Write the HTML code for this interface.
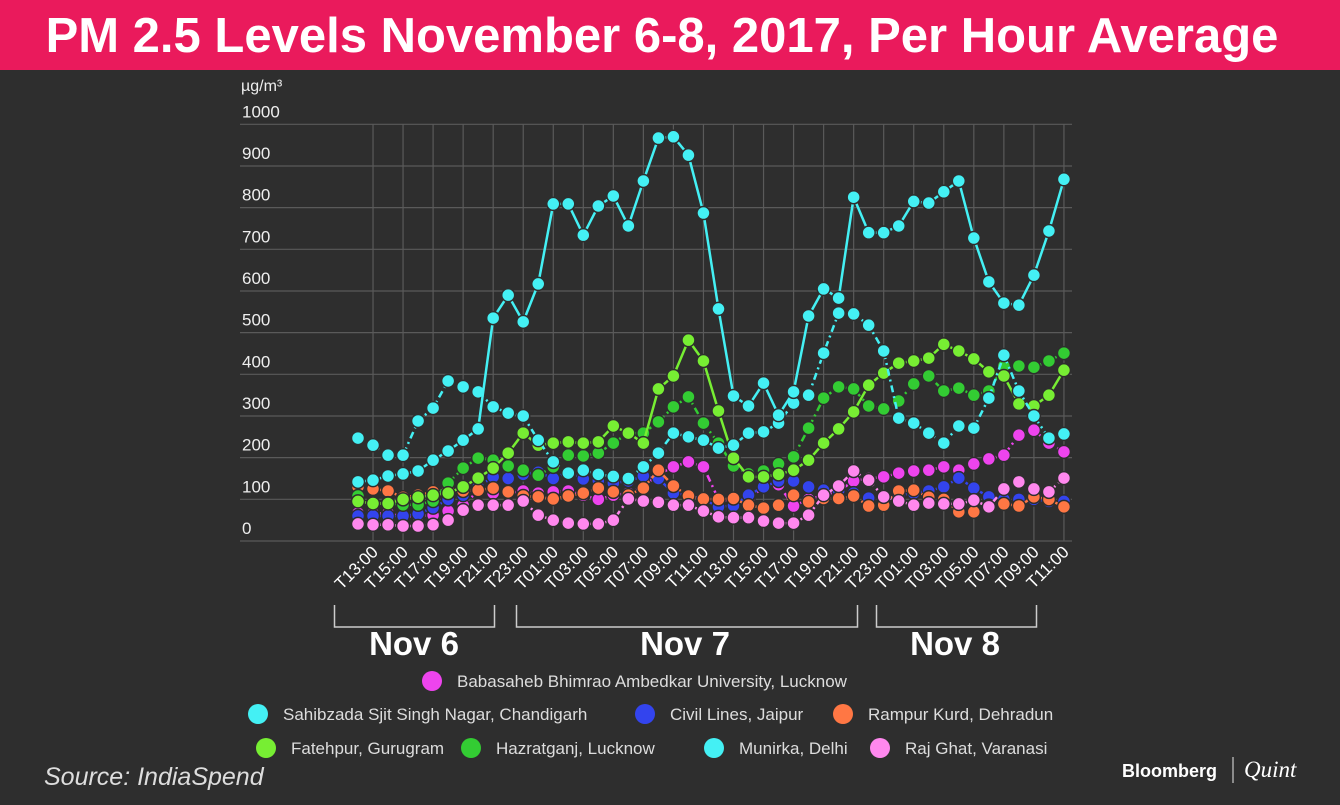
<!DOCTYPE html>
<html><head><meta charset="utf-8"><style>
body{margin:0;width:1340px;height:800px;background:#2e2e2e;overflow:hidden;font-family:"Liberation Sans",sans-serif}
</style></head><body>
<svg id="c" width="1340" height="800" xmlns="http://www.w3.org/2000/svg">
<rect x="0" y="0" width="1340" height="800" fill="#2e2e2e"/>
<rect x="0" y="0" width="1340" height="70" fill="#ea1a5c"/>
<text x="662" y="52" text-anchor="middle" font-size="49" font-weight="bold" fill="#fff">PM 2.5 Levels November 6-8, 2017, Per Hour Average</text>
<text x="241" y="91" font-size="16" fill="#eee">µg/m³</text>
<g id="grid"></g><g id="series"></g><g id="xlab"></g>
<g fill="none" stroke="#ccc" stroke-width="1.5">
<path d="M334.5 605V627H494.5V605"/>
<path d="M516.5 605V627H857.5V605"/>
<path d="M876.5 605V627H1036.5V605"/>
</g>
<g font-size="33" font-weight="bold" fill="#fff" text-anchor="middle">
<text x="414" y="655">Nov 6</text>
<text x="685" y="655">Nov 7</text>
<text x="955" y="655">Nov 8</text>
</g>
<g id="legend" font-size="17" fill="#ddd"></g>
<text x="44" y="785" font-size="25" font-style="italic" fill="#ddd">Source: IndiaSpend</text>
<text x="1122" y="777" font-size="18" font-weight="bold" fill="#fff">Bloomberg</text>
<line x1="1233" y1="757" x2="1233" y2="783" stroke="#aaa" stroke-width="1.5"/>
<text x="1244" y="777" font-size="23" font-style="italic" font-family="Liberation Serif,serif" fill="#fff">Quint</text>
</svg>
<script>
const yTicks=[0,100,200,300,400,500,600,700,800,900,1000];
const xTickLabels=["T13:00","T15:00","T17:00","T19:00","T21:00","T23:00","T01:00","T03:00","T05:00","T07:00","T09:00","T11:00","T13:00","T15:00","T17:00","T19:00","T21:00","T23:00","T01:00","T03:00","T05:00","T07:00","T09:00","T11:00"];
const seriesNames=["Babasaheb Bhimrao Ambedkar University, Lucknow","Sahibzada Sjit Singh Nagar, Chandigarh","Civil Lines, Jaipur","Rampur Kurd, Dehradun","Fatehpur, Gurugram","Hazratganj, Lucknow","Munirka, Delhi","Raj Ghat, Varanasi"];
const babasaheb=[67,66,67,58,60,62,72,86,120,115,115,120,115,118,120,110,100,110,115,130,160,178,190,178,100,95,100,130,135,84,100,110,120,144,150,154,163,168,170,178,170,185,197,206,254,266,235,214];
const sahibzada=[247,230,206,206,288,319,384,370,358,322,307,300,242,190,163,170,160,155,150,178,211,259,250,242,223,230,259,262,283,331,350,451,547,545,518,456,295,283,259,235,276,271,343,446,360,300,247,257];
const jaipur=[60,60,60,60,65,80,100,110,130,154,150,160,165,150,166,149,145,139,144,156,150,115,110,100,82,85,110,130,144,144,130,122,120,115,103,100,110,115,120,130,151,127,106,100,100,100,95,95];
const dehradun=[130,125,120,105,110,118,125,120,122,127,118,108,106,101,108,115,127,118,110,127,170,132,108,101,100,102,86,79,86,110,94,102,102,108,84,86,120,122,105,100,70,70,85,89,84,106,100,82];
const fatehpur=[95,90,90,100,105,110,115,130,151,175,211,259,230,235,238,235,238,276,259,235,365,396,482,432,312,199,154,154,160,170,194,235,269,310,374,403,427,432,439,472,456,437,406,396,329,324,350,410];
const hazratganj=[108,91,91,87,87,96,139,175,199,194,180,170,158,178,206,204,211,235,259,259,286,322,346,283,235,180,161,168,185,202,271,343,370,365,324,317,336,377,396,360,367,350,360,420,420,417,432,451];
const munirka=[142,146,156,161,168,194,216,242,269,535,590,526,617,809,809,734,804,828,756,864,967,970,926,787,557,348,324,379,302,358,540,605,583,825,740,740,756,815,811,838,864,727,622,571,566,638,744,868];
const rajghat=[41,39,39,36,36,39,50,74,86,86,86,96,62,50,43,41,41,50,101,96,93,86,86,72,58,56,56,48,43,43,62,110,132,168,146,106,96,86,91,89,89,98,82,125,142,125,118,151];
const seriesData=[babasaheb,sahibzada,jaipur,dehradun,fatehpur,hazratganj,munirka,rajghat];
const colors=["#ee44ee","#44f0f4","#3344ee","#ff7744","#77ee33","#33cc33","#44f0f4","#ff88ee"];
const dashes=["7 4 2 4","7 4 2 4","7 4 2 4","7 4 2 4","","7 4 2 4","","7 4 2 4"];
const drawOrder=[0,2,3,7,5,4,1,6];
const NS="http://www.w3.org/2000/svg";
function X(i){return 358+i*15.02;}
function Y(v){return 541-v*0.4167;}
function mk(t,a,p){const e=document.createElementNS(NS,t);for(const k in a)e.setAttribute(k,a[k]);p.appendChild(e);return e;}
const grid=document.getElementById('grid');
yTicks.forEach(v=>{
  const l=mk('line',{x1:240,x2:1072,y1:Y(v),y2:Y(v),stroke:'#5a5a5a','stroke-width':1.2},grid);
  
  
  const t=mk('text',{x:242,y:Y(v)-7,'font-size':17,fill:'#eee'},grid);
  t.textContent=v;
  
  
});
const xl=document.getElementById('xlab');
xTickLabels.forEach((s,k)=>{
  const x=X(1+2*k);
  const l=mk('line',{x1:x,x2:x,y1:Y(1000),y2:Y(0),stroke:'#5a5a5a','stroke-width':1.2},grid);
  
  
  const t=mk('text',{x:x+6,y:553,'font-size':17,fill:'#fff','text-anchor':'end',transform:`rotate(-45 ${x+6} 553)`},xl);
  t.textContent=s;
  
  
});
const sg=document.getElementById('series');
drawOrder.forEach(si=>{
  const d=seriesData[si];
  const g=mk('g',{},sg);
  
  
  const p=mk('path',{d:d.map((v,i)=>(i?'L':'M')+X(i)+' '+Y(v)).join(''),fill:'none',stroke:colors[si],'stroke-width':2.5,'stroke-dasharray':dashes[si]},g);
  
  
  d.forEach((v,i)=>{
    const c=mk('circle',{cx:X(i),cy:Y(v),r:6.5,fill:colors[si],stroke:'#2e2e2e','stroke-width':1.5},g);
    
    
  });
});
const lg=document.getElementById('legend');
const legPos=[[432,681],[258,714],[645,714],[843,714],[266,748],[471,748],[714,748],[880,748]];
seriesNames.forEach((n,i)=>{
  const [x,y]=legPos[i];
  const g=mk('g',{},lg);
  
  
  mk('circle',{cx:x,cy:y,r:10,fill:colors[i]},g);
  const t=mk('text',{x:x+25,y:y+6},g);
  t.textContent=n;
});
</script>
</body></html>
